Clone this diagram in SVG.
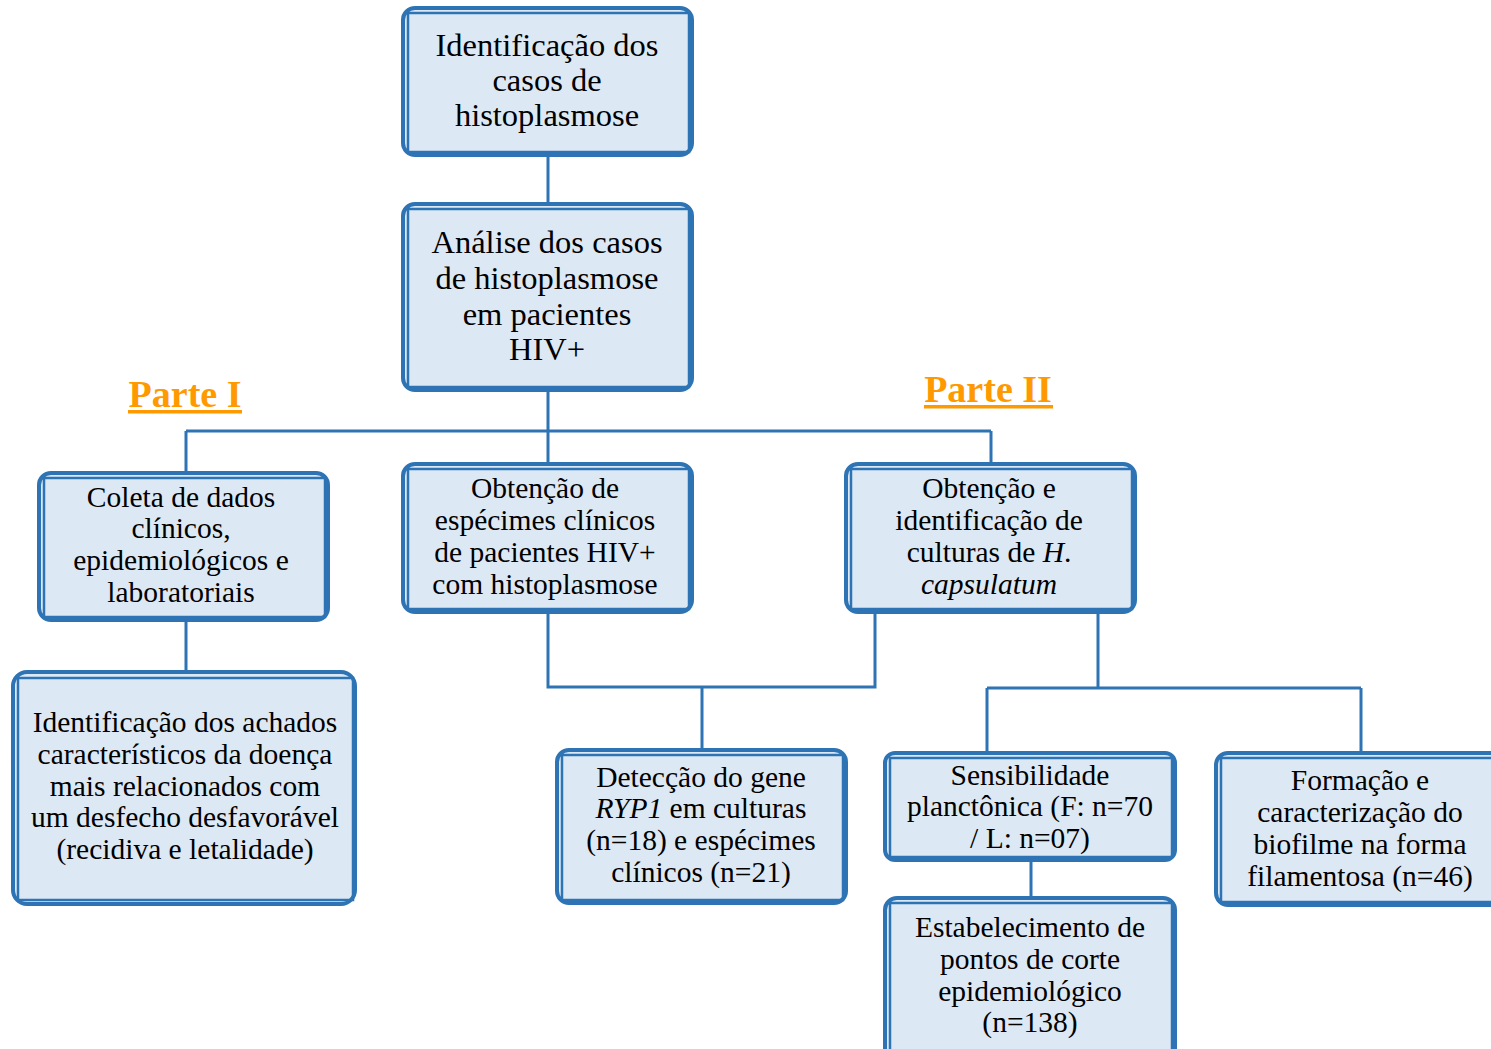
<svg xmlns="http://www.w3.org/2000/svg" width="1491" height="1049" viewBox="0 0 1491 1049">
<style>
.o{fill:#dde8f5;stroke:#2e74b5;stroke-width:4}
.i{fill:none;stroke:#2e74b5;stroke-width:2.5}
.t{font-family:"Liberation Serif","Times New Roman",serif;fill:#000;text-anchor:middle}
.b28{font-size:32.5px}
.b26{font-size:29.5px}
.c{fill:none;stroke:#2e74b5;stroke-width:3}
.p{font-family:"Liberation Serif","Times New Roman",serif;font-weight:bold;font-size:38px;fill:#ff9900;text-anchor:middle}
</style>
<rect width="1491" height="1049" fill="#fff"/>
<g id="connectors">
<path class="c" d="M548 156V203M548 391V463M186 431H991M186 431V472M991 431V463M186 621V671M548 613V687H875V613M702 687V749M1098 613V688M987 688H1361M987 688V752M1361 688V752M1031 861V897"/>
</g>
<g id="labels">
<text class="p" x="185" y="407">Parte I</text>
<rect x="128" y="410" width="114" height="3.5" fill="#ff9900"/>
<text class="p" x="988" y="402">Parte II</text>
<rect x="924" y="405" width="129" height="3.5" fill="#ff9900"/>
</g>
<g id="n1">
<rect class="o" x="403" y="8" width="289" height="147" rx="12"/>
<rect class="i" x="408" y="13" width="281" height="139"/>
<text class="t b28" x="547"><tspan x="547" y="56">Identificação dos</tspan><tspan x="547" y="91">casos de</tspan><tspan x="547" y="126">histoplasmose</tspan></text>
</g>
<g id="n2">
<rect class="o" x="403" y="204" width="289" height="186" rx="12"/>
<rect class="i" x="408" y="209" width="281" height="178"/>
<text class="t b28"><tspan x="547" y="253">Análise dos casos</tspan><tspan x="547" y="289">de histoplasmose</tspan><tspan x="547" y="325">em pacientes</tspan><tspan x="547" y="360">HIV+</tspan></text>
</g>
<g id="n3">
<rect class="o" x="39" y="473" width="289" height="147" rx="12"/>
<rect class="i" x="44" y="478" width="281" height="139"/>
<text class="t b26"><tspan x="181" y="507">Coleta de dados</tspan><tspan x="181" y="538">clínicos,</tspan><tspan x="181" y="570">epidemiológicos e</tspan><tspan x="181" y="602">laboratoriais</tspan></text>
</g>
<g id="n4">
<rect class="o" x="13" y="672" width="342" height="232" rx="14"/>
<rect class="i" x="18" y="678" width="335" height="222"/>
<text class="t b26"><tspan x="185" y="732">Identificação dos achados</tspan><tspan x="185" y="764">característicos da doença</tspan><tspan x="185" y="796">mais relacionados com</tspan><tspan x="185" y="827">um desfecho desfavorável</tspan><tspan x="185" y="859">(recidiva e letalidade)</tspan></text>
</g>
<g id="n5">
<rect class="o" x="403" y="464" width="289" height="148" rx="12"/>
<rect class="i" x="408" y="469" width="281" height="140"/>
<text class="t b26"><tspan x="545" y="498">Obtenção de</tspan><tspan x="545" y="530">espécimes clínicos</tspan><tspan x="545" y="562">de pacientes HIV+</tspan><tspan x="545" y="594">com histoplasmose</tspan></text>
</g>
<g id="n6">
<rect class="o" x="846" y="464" width="289" height="148" rx="12"/>
<rect class="i" x="851" y="469" width="281" height="140"/>
<text class="t b26"><tspan x="989" y="498">Obtenção e</tspan><tspan x="989" y="530">identificação de</tspan><tspan x="989" y="562">culturas de <tspan font-style="italic">H</tspan>.</tspan><tspan x="989" y="594" font-style="italic">capsulatum</tspan></text>
</g>
<g id="n7">
<rect class="o" x="557" y="750" width="289" height="153" rx="12"/>
<rect class="i" x="562" y="755" width="281" height="145"/>
<text class="t b26"><tspan x="701" y="787">Detecção do gene</tspan><tspan x="701" y="818"><tspan font-style="italic">RYP1</tspan> em culturas</tspan><tspan x="701" y="850">(n=18) e espécimes</tspan><tspan x="701" y="882">clínicos (n=21)</tspan></text>
</g>
<g id="n8">
<rect class="o" x="885" y="753" width="290" height="107" rx="10"/>
<rect class="i" x="890" y="758" width="282" height="99"/>
<text class="t b26"><tspan x="1030" y="785">Sensibilidade</tspan><tspan x="1030" y="816">planctônica (F: n=70</tspan><tspan x="1030" y="848">/ L: n=07)</tspan></text>
</g>
<g id="n9">
<rect class="o" x="885" y="898" width="290" height="170" rx="12"/>
<rect class="i" x="890" y="903" width="282" height="160"/>
<text class="t b26"><tspan x="1030" y="937">Estabelecimento de</tspan><tspan x="1030" y="969">pontos de corte</tspan><tspan x="1030" y="1001">epidemiológico</tspan><tspan x="1030" y="1032">(n=138)</tspan></text>
</g>
<g id="n10">
<rect class="o" x="1216" y="753" width="290" height="152" rx="12"/>
<rect class="i" x="1221" y="758" width="282" height="144"/>
<text class="t b26"><tspan x="1360" y="790">Formação e</tspan><tspan x="1360" y="822">caracterização do</tspan><tspan x="1360" y="854">biofilme na forma</tspan><tspan x="1360" y="886">filamentosa (n=46)</tspan></text>
</g>
</svg>
